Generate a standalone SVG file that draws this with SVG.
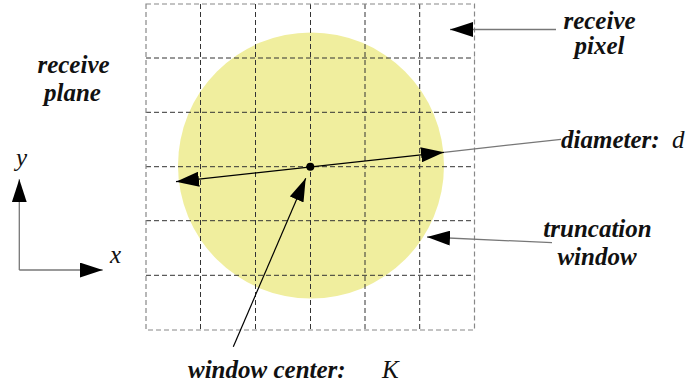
<svg xmlns="http://www.w3.org/2000/svg" width="690" height="385" viewBox="0 0 690 385">
<defs>
<marker id="ah" viewBox="0 0 23 15" refX="23" refY="7.5" markerWidth="23" markerHeight="15" markerUnits="userSpaceOnUse" orient="auto-start-reverse">
<path d="M0,0 L23,7.5 L0,15 z" fill="#000"/>
</marker>
</defs>
<style>
text{font-family:'Liberation Serif',serif}
.lbl{font-style:italic;font-weight:bold;font-size:25px;fill:#111}
.var{font-style:italic;font-size:25px;fill:#111}
.grid{stroke:#333;stroke-width:1;stroke-dasharray:5 3;fill:none}
.border{stroke:#888;stroke-width:1.2;stroke-dasharray:5 3;fill:none}
.conn{stroke:#000;stroke-width:1.2;fill:none}
.gconn{stroke:#777;stroke-width:1.3;fill:none}
</style>
<rect width="690" height="385" fill="#fff"/>
<g id="window">
<circle cx="311" cy="165.5" r="133" fill="#f0ee9e"/>
</g>
<g id="grid">
<line class="grid" x1="200.5" y1="4" x2="200.5" y2="330"/>
<line class="grid" x1="255.5" y1="4" x2="255.5" y2="330"/>
<line class="grid" x1="310.5" y1="4" x2="310.5" y2="330"/>
<line class="grid" x1="365" y1="4" x2="365" y2="330"/>
<line class="grid" x1="419.7" y1="4" x2="419.7" y2="330"/>
<line class="grid" x1="146" y1="58" x2="474.5" y2="58"/>
<line class="grid" x1="146" y1="112.3" x2="474.5" y2="112.3"/>
<line class="grid" x1="146" y1="166.7" x2="474.5" y2="166.7"/>
<line class="grid" x1="146" y1="220.7" x2="474.5" y2="220.7"/>
<line class="grid" x1="146" y1="275.3" x2="474.5" y2="275.3"/>
<rect class="border" x="146" y="4" width="328.5" height="326"/>
</g>
<g id="connectors">
<line class="conn" x1="176" y1="181.7" x2="444" y2="152.3" marker-start="url(#ah)" marker-end="url(#ah)"/>
<line class="gconn" x1="444" y1="152.3" x2="561" y2="139.3"/>
<line class="gconn" x1="556" y1="29.5" x2="450" y2="29.5" marker-end="url(#ah)"/>
<line class="gconn" x1="552" y1="242.7" x2="427" y2="237" marker-end="url(#ah)"/>
<line class="conn" x1="233.3" y1="346.7" x2="305.7" y2="178.3" marker-end="url(#ah)"/>
<line class="gconn" x1="19.3" y1="270" x2="19.3" y2="179.3" marker-end="url(#ah)"/>
<line class="gconn" x1="19.3" y1="270" x2="102.7" y2="270" marker-end="url(#ah)"/>
</g>
<g id="center-dot">
<circle cx="310.3" cy="166.7" r="4" fill="#000"/>
</g>
<g id="label-receive-pixel">
<text class="lbl" x="599.5" y="29" text-anchor="middle" font-family="Liberation Serif, serif">receive</text>
<text class="lbl" x="599.5" y="54" text-anchor="middle" font-family="Liberation Serif, serif">pixel</text>
</g>
<g id="label-receive-plane">
<text class="lbl" x="73.5" y="73" text-anchor="middle" font-family="Liberation Serif, serif">receive</text>
<text class="lbl" x="72.5" y="101" text-anchor="middle" font-family="Liberation Serif, serif">plane</text>
</g>
<g id="label-diameter">
<text class="lbl" x="561" y="148" font-family="Liberation Serif, serif">diameter:</text>
<text class="var" x="672" y="148" font-family="Liberation Serif, serif">d</text>
</g>
<g id="label-truncation">
<text class="lbl" x="597.5" y="237" text-anchor="middle" font-family="Liberation Serif, serif">truncation</text>
<text class="lbl" x="597" y="265" text-anchor="middle" font-family="Liberation Serif, serif">window</text>
</g>
<g id="label-center">
<text class="lbl" x="188" y="378" font-family="Liberation Serif, serif">window center:</text>
<text class="var" x="382" y="378" font-family="Liberation Serif, serif">K</text>
</g>
<g id="axes-labels">
<text class="var" x="16" y="166" font-family="Liberation Serif, serif">y</text>
<text class="var" x="110" y="262.5" font-family="Liberation Serif, serif">x</text>
</g>
</svg>
